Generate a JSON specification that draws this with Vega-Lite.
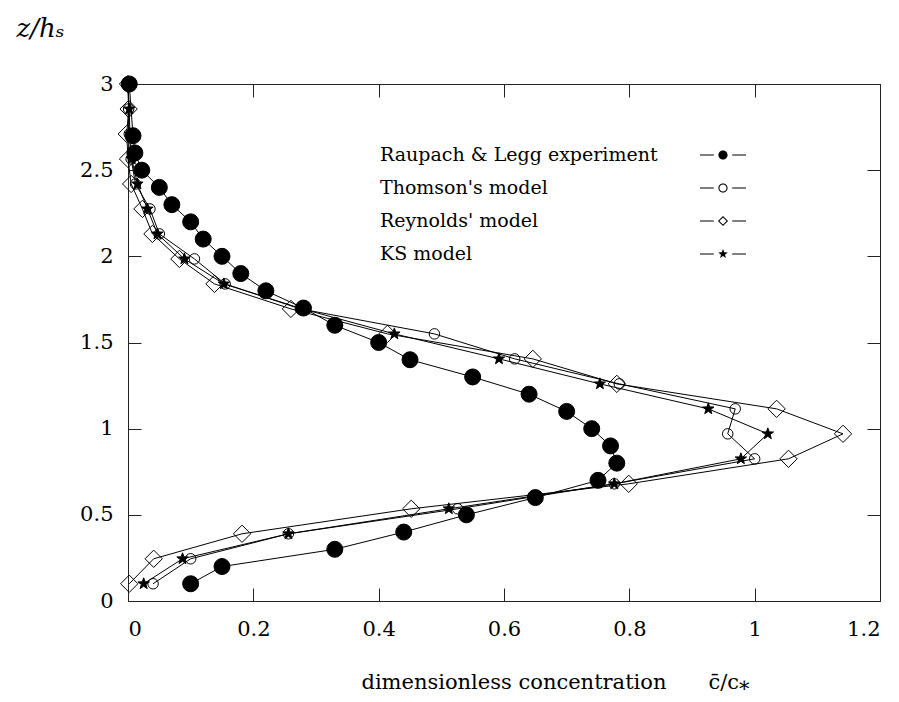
{
  "$schema": "https://vega.github.io/schema/vega-lite/v6.json",
  "width": 752,
  "height": 517,
  "autosize": "none",
  "padding": {"left": 128, "top": 84, "right": 19, "bottom": 101},
  "background": "white",
  "config": {
    "view": {"stroke": null},
    "font": "DejaVu Serif",
    "axis": {"grid": false, "domainColor": "#222", "tickColor": "#222", "labelColor": "black", "titleColor": "black", "labelFont": "DejaVu Serif", "titleFont": "DejaVu Serif", "titleFontWeight": "normal", "labelFontSize": 21, "titleFontSize": 21}
  },
  "data": {"values": [
    {"s": "Raupach & Legg experiment", "z": 0.1, "c": 0.10},
    {"s": "Raupach & Legg experiment", "z": 0.2, "c": 0.15},
    {"s": "Raupach & Legg experiment", "z": 0.3, "c": 0.33},
    {"s": "Raupach & Legg experiment", "z": 0.4, "c": 0.44},
    {"s": "Raupach & Legg experiment", "z": 0.5, "c": 0.54},
    {"s": "Raupach & Legg experiment", "z": 0.6, "c": 0.65},
    {"s": "Raupach & Legg experiment", "z": 0.7, "c": 0.75},
    {"s": "Raupach & Legg experiment", "z": 0.8, "c": 0.78},
    {"s": "Raupach & Legg experiment", "z": 0.9, "c": 0.77},
    {"s": "Raupach & Legg experiment", "z": 1.0, "c": 0.74},
    {"s": "Raupach & Legg experiment", "z": 1.1, "c": 0.70},
    {"s": "Raupach & Legg experiment", "z": 1.2, "c": 0.64},
    {"s": "Raupach & Legg experiment", "z": 1.3, "c": 0.55},
    {"s": "Raupach & Legg experiment", "z": 1.4, "c": 0.45},
    {"s": "Raupach & Legg experiment", "z": 1.5, "c": 0.40},
    {"s": "Raupach & Legg experiment", "z": 1.6, "c": 0.33},
    {"s": "Raupach & Legg experiment", "z": 1.7, "c": 0.28},
    {"s": "Raupach & Legg experiment", "z": 1.8, "c": 0.22},
    {"s": "Raupach & Legg experiment", "z": 1.9, "c": 0.18},
    {"s": "Raupach & Legg experiment", "z": 2.0, "c": 0.15},
    {"s": "Raupach & Legg experiment", "z": 2.1, "c": 0.12},
    {"s": "Raupach & Legg experiment", "z": 2.2, "c": 0.10},
    {"s": "Raupach & Legg experiment", "z": 2.3, "c": 0.07},
    {"s": "Raupach & Legg experiment", "z": 2.4, "c": 0.05},
    {"s": "Raupach & Legg experiment", "z": 2.5, "c": 0.022},
    {"s": "Raupach & Legg experiment", "z": 2.6, "c": 0.011},
    {"s": "Raupach & Legg experiment", "z": 2.7, "c": 0.008},
    {"s": "Raupach & Legg experiment", "z": 3.0, "c": 0.002},

    {"s": "Thomson's model", "z": 0.1, "c": 0.04},
    {"s": "Thomson's model", "z": 0.245, "c": 0.10},
    {"s": "Thomson's model", "z": 0.39, "c": 0.256},
    {"s": "Thomson's model", "z": 0.535, "c": 0.526},
    {"s": "Thomson's model", "z": 0.68, "c": 0.776},
    {"s": "Thomson's model", "z": 0.825, "c": 1.0},
    {"s": "Thomson's model", "z": 0.97, "c": 0.957},
    {"s": "Thomson's model", "z": 1.115, "c": 0.969},
    {"s": "Thomson's model", "z": 1.26, "c": 0.784},
    {"s": "Thomson's model", "z": 1.405, "c": 0.617},
    {"s": "Thomson's model", "z": 1.55, "c": 0.489},
    {"s": "Thomson's model", "z": 1.695, "c": 0.275},
    {"s": "Thomson's model", "z": 1.84, "c": 0.155},
    {"s": "Thomson's model", "z": 1.985, "c": 0.106},
    {"s": "Thomson's model", "z": 2.13, "c": 0.05},
    {"s": "Thomson's model", "z": 2.275, "c": 0.035},
    {"s": "Thomson's model", "z": 2.42, "c": 0.012},
    {"s": "Thomson's model", "z": 2.565, "c": 0.005},
    {"s": "Thomson's model", "z": 2.71, "c": 0.002},
    {"s": "Thomson's model", "z": 2.855, "c": 0.001},
    {"s": "Thomson's model", "z": 3.0, "c": 0.0},

    {"s": "Reynolds' model", "z": 0.1, "c": 0.002},
    {"s": "Reynolds' model", "z": 0.245, "c": 0.041},
    {"s": "Reynolds' model", "z": 0.39, "c": 0.182},
    {"s": "Reynolds' model", "z": 0.535, "c": 0.452},
    {"s": "Reynolds' model", "z": 0.68, "c": 0.799},
    {"s": "Reynolds' model", "z": 0.825, "c": 1.054},
    {"s": "Reynolds' model", "z": 0.97, "c": 1.141},
    {"s": "Reynolds' model", "z": 1.115, "c": 1.035},
    {"s": "Reynolds' model", "z": 1.26, "c": 0.78},
    {"s": "Reynolds' model", "z": 1.405, "c": 0.646},
    {"s": "Reynolds' model", "z": 1.55, "c": 0.414},
    {"s": "Reynolds' model", "z": 1.695, "c": 0.26},
    {"s": "Reynolds' model", "z": 1.84, "c": 0.138},
    {"s": "Reynolds' model", "z": 1.985, "c": 0.082},
    {"s": "Reynolds' model", "z": 2.13, "c": 0.039},
    {"s": "Reynolds' model", "z": 2.275, "c": 0.023},
    {"s": "Reynolds' model", "z": 2.42, "c": 0.005},
    {"s": "Reynolds' model", "z": 2.565, "c": 0.0},
    {"s": "Reynolds' model", "z": 2.71, "c": -0.002},
    {"s": "Reynolds' model", "z": 2.855, "c": 0.001},
    {"s": "Reynolds' model", "z": 3.0, "c": 0.0},

    {"s": "KS model", "z": 0.1, "c": 0.025},
    {"s": "KS model", "z": 0.245, "c": 0.087},
    {"s": "KS model", "z": 0.39, "c": 0.256},
    {"s": "KS model", "z": 0.535, "c": 0.512},
    {"s": "KS model", "z": 0.68, "c": 0.776},
    {"s": "KS model", "z": 0.825, "c": 0.978},
    {"s": "KS model", "z": 0.97, "c": 1.021},
    {"s": "KS model", "z": 1.115, "c": 0.926},
    {"s": "KS model", "z": 1.26, "c": 0.753},
    {"s": "KS model", "z": 1.405, "c": 0.592},
    {"s": "KS model", "z": 1.55, "c": 0.425},
    {"s": "KS model", "z": 1.695, "c": 0.278},
    {"s": "KS model", "z": 1.84, "c": 0.153},
    {"s": "KS model", "z": 1.985, "c": 0.09},
    {"s": "KS model", "z": 2.13, "c": 0.047},
    {"s": "KS model", "z": 2.275, "c": 0.031},
    {"s": "KS model", "z": 2.42, "c": 0.015},
    {"s": "KS model", "z": 2.565, "c": 0.006},
    {"s": "KS model", "z": 2.71, "c": 0.003},
    {"s": "KS model", "z": 2.855, "c": 0.002},
    {"s": "KS model", "z": 3.0, "c": 0.0}
  ]},
  "layer": [
    {
      "mark": {"type": "line", "color": "black", "strokeWidth": 1},
      "encoding": {
        "x": {"field": "c", "type": "quantitative", "scale": {"domain": [0, 1.2], "nice": false, "zero": false},
          "axis": {"orient": "bottom", "values": [0, 0.2, 0.4, 0.6, 0.8, 1, 1.2], "format": "~g", "tickSize": -13, "labelPadding": 30,
            "title": "dimensionless concentration\u2003\u2003c\u0304/c\u204e", "titleX": 427, "titleY": 87, "titleAnchor": null, "titleAlign": "center", "titleBaseline": "alphabetic"}},
        "y": {"field": "z", "type": "quantitative", "scale": {"domain": [0, 3], "nice": false, "zero": false},
          "axis": {"orient": "left", "values": [0, 0.5, 1, 1.5, 2, 2.5, 3], "format": "~g", "tickSize": -13, "labelPadding": 28,
            "title": "z/h\u209b", "titleAngle": 0, "titleX": -88, "titleY": -56, "titleAlign": "center", "titleBaseline": "middle", "titleFontStyle": "italic", "titleFontSize": 26}},
        "detail": {"field": "s"},
        "order": {"field": "z", "type": "quantitative"}
      }
    },
    {
      "mark": {"type": "point", "filled": true, "stroke": "black", "strokeWidth": 1, "opacity": 1},
      "encoding": {
        "x": {"field": "c", "type": "quantitative", "axis": null},
        "y": {"field": "z", "type": "quantitative", "axis": null},
        "shape": {"field": "s", "type": "nominal", "legend": null,
          "scale": {"domain": ["Raupach & Legg experiment", "Thomson's model", "Reynolds' model", "KS model"],
            "range": ["circle", "circle", "diamond", "M0,-1L0.235,-0.324L0.951,-0.309L0.38,0.124L0.588,0.809L0,0.4L-0.588,0.809L-0.38,0.124L-0.951,-0.309L-0.235,-0.324Z"]}},
        "fill": {"field": "s", "type": "nominal", "legend": null,
          "scale": {"domain": ["Raupach & Legg experiment", "Thomson's model", "Reynolds' model", "KS model"],
            "range": ["black", "transparent", "transparent", "black"]}},
        "size": {"field": "s", "type": "nominal", "legend": null,
          "scale": {"type": "ordinal", "domain": ["Raupach & Legg experiment", "Thomson's model", "Reynolds' model", "KS model"],
            "range": [256, 110, 300, 144]}}
      }
    },
    {
      "mark": {"type": "point", "opacity": 0},
      "encoding": {
        "x": {"field": "c", "type": "quantitative", "axis": {"orient": "top", "values": [0, 0.2, 0.4, 0.6, 0.8, 1, 1.2], "labels": false, "title": null, "tickSize": -13}},
        "y": {"field": "z", "type": "quantitative", "axis": {"orient": "right", "values": [0, 0.5, 1, 1.5, 2, 2.5, 3], "labels": false, "title": null, "tickSize": -13}}
      }
    },
    {
      "mark": {"type": "point", "filled": true, "color": "black", "strokeWidth": 0, "opacity": 0},
      "encoding": {
        "x": {"field": "c", "type": "quantitative", "axis": null},
        "y": {"field": "z", "type": "quantitative", "axis": null},
        "shape": {"field": "s", "type": "nominal",
          "scale": {"domain": ["Raupach & Legg experiment", "Thomson's model", "Reynolds' model", "KS model"],
            "range": [
              "M-1,-0.022H-0.4V0.022H-1ZM0.4,-0.022H1V0.022H0.4ZM0.2,0A0.2,0.2,0,1,1,-0.2,0A0.2,0.2,0,1,1,0.2,0Z",
              "M-1,-0.022H-0.4V0.022H-1ZM0.4,-0.022H1V0.022H0.4ZM0.2,0A0.2,0.2,0,1,1,-0.2,0A0.2,0.2,0,1,1,0.2,0ZM0.155,0A0.155,0.155,0,1,0,-0.155,0A0.155,0.155,0,1,0,0.155,0Z",
              "M-1,-0.022H-0.4V0.022H-1ZM0.4,-0.022H1V0.022H0.4ZM0,-0.22L0.22,0L0,0.22L-0.22,0ZM0,-0.156L-0.156,0L0,0.156L0.156,0Z",
              "M-1,-0.022H-0.4V0.022H-1ZM0.4,-0.022H1V0.022H0.4ZM0,-0.22L0.053,-0.073L0.209,-0.068L0.086,0.028L0.129,0.178L0,0.09L-0.129,0.178L-0.086,0.028L-0.209,-0.068L-0.053,-0.073Z"
            ]},
          "legend": {"title": null, "orient": "none", "legendX": 572, "legendY": 48, "padding": 0,
            "labelFont": "DejaVu Serif", "labelFontSize": 19, "labelColor": "black", "labelAlign": "left", "labelOffset": -366, "labelLimit": 0,
            "symbolSize": 2116, "symbolOpacity": 1, "symbolFillColor": "black", "symbolStrokeColor": "transparent", "symbolStrokeWidth": 0,
            "rowPadding": -27}}
      }
    }
  ],
  "resolve": {"axis": {"x": "independent", "y": "independent"}, "scale": {"shape": "independent"}}
}
